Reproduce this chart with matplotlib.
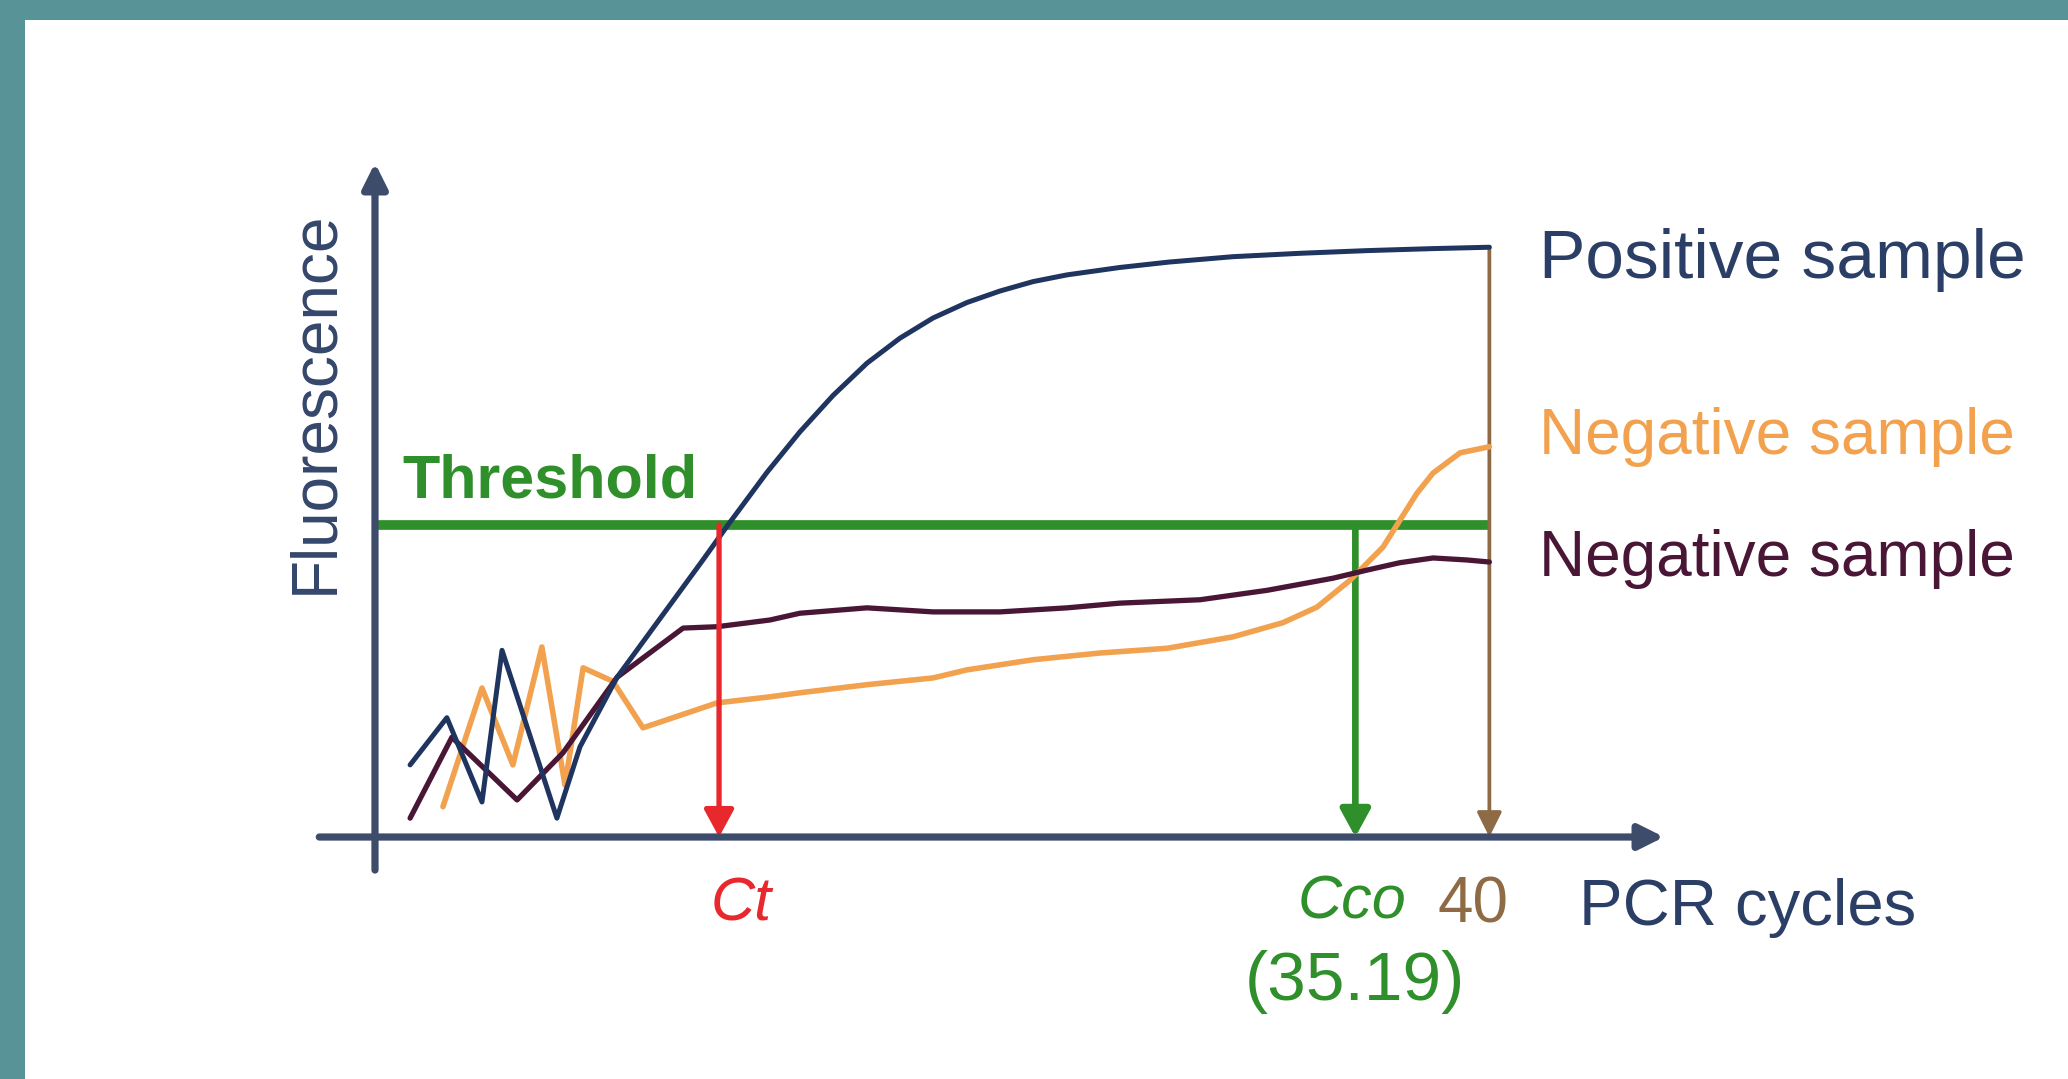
import matplotlib
matplotlib.use("Agg")
import matplotlib.pyplot as plt
from matplotlib.patches import Rectangle

# ---------------- data ----------------
cycles_pos = [1.26, 2.58, 3.84, 4.56, 6.53, 7.36, 8.69, 11.77, 12.67, 14.07, 15.25,
              16.44, 17.66, 18.84, 20.03, 21.25, 22.43, 23.62, 24.84, 26.74, 28.5,
              30.8, 33.2, 35.61, 38.0, 40.0]
fluor_pos = [10.7, 17.7, 5.2, 27.7, 2.8, 13.4, 23.7, 41.1, 46.3, 54.1, 60.1,
             65.5, 70.3, 74.0, 77.0, 79.3, 81.0, 82.4, 83.4, 84.5, 85.3,
             86.1, 86.6, 87.0, 87.3, 87.5]

cycles_neg_orange = [2.44, 3.84, 4.95, 5.99, 6.82, 7.47, 8.54, 9.62, 12.28, 14.18,
                     15.25, 17.66, 20.03, 21.25, 23.62, 26.02, 28.43, 30.80, 32.59,
                     33.81, 35.00, 36.18, 36.79, 37.40, 37.98, 38.95, 40.0]
fluor_neg_orange = [4.5, 22.1, 10.7, 28.2, 7.7, 25.1, 23.1, 16.2, 19.9, 20.8,
                    21.4, 22.6, 23.6, 24.8, 26.3, 27.3, 28.0, 29.7, 31.8,
                    34.1, 38.1, 43.0, 47.0, 51.0, 54.0, 57.0, 57.9]

cycles_neg_maroon = [1.26, 2.76, 5.10, 6.75, 8.69, 11.06, 12.28, 14.18, 15.25, 17.66,
                     20.03, 22.43, 24.84, 26.74, 29.61, 32.02, 34.39, 35.61, 36.79,
                     37.98, 39.20, 40.0]
fluor_neg_maroon = [2.8, 14.8, 5.5, 12.5, 23.7, 31.0, 31.2, 32.2, 33.2, 34.0,
                    33.4, 33.4, 34.0, 34.7, 35.2, 36.6, 38.4, 39.6, 40.7,
                    41.4, 41.1, 40.8]

threshold = 46.3
ct_cycle = 12.35
cco_cycle = 35.19
last_cycle = 40
cco_label = "(35.19)"
series_labels = ["Positive sample", "Negative sample", "Negative sample"]

# ---------------- styling ----------------
NAVY = "#1f3560"
ORANGE = "#f2a24e"
MAROON = "#4a1636"
GREEN = "#2f8f2a"
RED = "#e8282c"
BROWN = "#8e6b45"
AXIS = "#3d4c6b"
TEAL = "#579397"
FONT = ["Liberation Sans", "DejaVu Sans"]

W, H = 2068, 1079
fig = plt.figure(figsize=(W / 100, H / 100), dpi=100)
fig.patch.set_facecolor(TEAL)
fig.patches.append(Rectangle((25 / W, 0), 1 - 25 / W, 1 - 20 / H,
                             transform=fig.transFigure, facecolor="white",
                             edgecolor="none", zorder=-5))

ax = fig.add_axes([0, 0, 1, 1])
ax.set_zorder(2)
ax.set_facecolor("none")
ax.patch.set_alpha(0)
ax.set_xlim(-13.46, 60.77)
ax.set_ylim(-35.9, 124.18)
ax.axis("off")

# axes with arrows
ax.annotate("", xy=(0, 100), xytext=(0, -4.9),
            arrowprops=dict(arrowstyle="-|>,head_length=0.5,head_width=0.25",
                            color=AXIS, lw=5.2, shrinkA=0, shrinkB=0,
                            mutation_scale=30), zorder=5)
ax.annotate("", xy=(46.27, 0), xytext=(-2.0, 0),
            arrowprops=dict(arrowstyle="-|>,head_length=0.5,head_width=0.25",
                            color=AXIS, lw=5.2, shrinkA=0, shrinkB=0,
                            mutation_scale=30), zorder=5)

# threshold
ax.plot([0, last_cycle], [threshold, threshold], color=GREEN, lw=7, zorder=2,
        solid_capstyle="butt")

# curves
ax.plot(cycles_neg_orange, fluor_neg_orange, color=ORANGE, lw=4.0, zorder=3,
        solid_joinstyle="round", solid_capstyle="round")
ax.plot(cycles_neg_maroon, fluor_neg_maroon, color=MAROON, lw=3.8, zorder=3.1,
        solid_joinstyle="round", solid_capstyle="round")
ax.plot(cycles_pos, fluor_pos, color=NAVY, lw=3.6, zorder=3.2,
        solid_joinstyle="round", solid_capstyle="round")

# drop arrows
ax.annotate("", xy=(ct_cycle, 0), xytext=(ct_cycle, threshold),
            arrowprops=dict(arrowstyle="-|>,head_length=0.55,head_width=0.3",
                            color=RED, lw=3.8, shrinkA=0, shrinkB=0,
                            mutation_scale=30), zorder=4)
ax.annotate("", xy=(cco_cycle, 0), xytext=(cco_cycle, threshold),
            arrowprops=dict(arrowstyle="-|>,head_length=0.55,head_width=0.3",
                            color=GREEN, lw=4.8, shrinkA=0, shrinkB=0,
                            mutation_scale=30), zorder=2.5)
ax.annotate("", xy=(last_cycle, 0), xytext=(last_cycle, fluor_pos[-1]),
            arrowprops=dict(arrowstyle="-|>,head_length=0.5,head_width=0.25",
                            color=BROWN, lw=2.7, shrinkA=0, shrinkB=0,
                            mutation_scale=30), zorder=2.6)

# texts
ax.text(-2.15, 64.5, "Fluorescence", rotation=90, ha="center", va="center",
        fontsize=46, color="#34476b", family=FONT)
ax.text(0.97, 50.3, "Threshold", ha="left", va="baseline", fontsize=44,
        fontweight="bold", color=GREEN, family=FONT)
ax.text(41.78, 85.6, series_labels[0], ha="left", va="center", fontsize=50,
        color="#2b3f66", family=FONT)
ax.text(41.78, 59.3, series_labels[1], ha="left", va="center", fontsize=46,
        color=ORANGE, family=FONT)
ax.text(41.78, 41.2, series_labels[2], ha="left", va="center", fontsize=46,
        color=MAROON, family=FONT)
ax.text(13.14, -10.1, "Ct", ha="center", va="center", fontsize=44,
        style="italic", color=RED, family=FONT)
ax.text(35.07, -9.8, "Cco", ha="center", va="center", fontsize=44,
        style="italic", color=GREEN, family=FONT)
ax.text(39.41, -10.1, str(last_cycle), ha="center", va="center", fontsize=46,
        color=BROWN, family=FONT)
ax.text(43.22, -10.6, "PCR cycles", ha="left", va="center", fontsize=47,
        color="#2b3f66", family=FONT)
ax.text(35.18, -21.5, cco_label, ha="center", va="center", fontsize=50,
        color=GREEN, family=FONT)

fig.savefig("out.png", dpi=100, facecolor=fig.get_facecolor())
